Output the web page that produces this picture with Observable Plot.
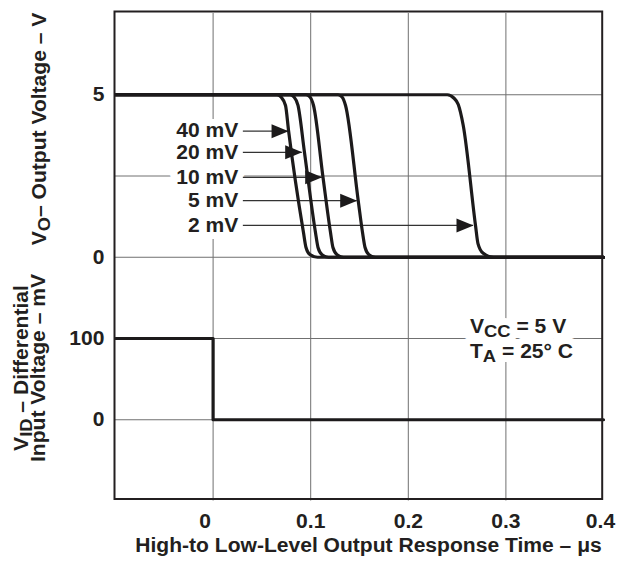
<!DOCTYPE html>
<html>
<head>
<meta charset="utf-8">
<script src="https://cdn.jsdelivr.net/npm/d3@7"></script>
<script src="https://cdn.jsdelivr.net/npm/@observablehq/plot@0.6"></script>
<style>
  html, body { margin: 0; padding: 0; background: #fff; }
  #chart { width: 617px; height: 565px; }
</style>
</head>
<body>
<div id="chart"></div>
<script>
// ---------- data ----------
// Output voltage VO (V) vs time (µs) for each input overdrive
const vo40mV = [[-0.1,5],[0.0655,5],[0.0696,4.93],[0.0742,4.67],[0.0773,3.90],[0.0926,0.76],[0.0952,0.30],[0.0993,0.08],[0.1070,0],[0.4,0]];
const vo20mV = [[-0.1,5],[0.0788,5],[0.0829,4.93],[0.0870,4.67],[0.0936,3.23],[0.1049,0.76],[0.1075,0.30],[0.1116,0.08],[0.1182,0],[0.4,0]];
const vo10mV = [[-0.1,5],[0.0952,5],[0.0993,4.93],[0.1029,4.67],[0.1126,2.46],[0.1203,0.76],[0.1228,0.30],[0.1270,0.08],[0.1336,0],[0.4,0]];
const vo5mV  = [[-0.1,5],[0.1280,5],[0.1321,4.93],[0.1357,4.67],[0.1487,1.74],[0.1531,0.76],[0.1557,0.30],[0.1597,0.08],[0.1664,0],[0.4,0]];
const vo2mV  = [[-0.1,5],[0.2400,5],[0.2466,4.90],[0.2512,4.70],[0.2562,4.07],[0.2689,0.97],[0.2714,0.42],[0.2765,0.13],[0.2873,0],[0.4,0]];
const seriesNames = ["40 mV", "20 mV", "10 mV", "5 mV", "2 mV"];
const seriesPoints = [vo40mV, vo20mV, vo10mV, vo5mV, vo2mV];

// Differential input voltage VID (mV) step
const vidTime = [-0.1, 0, 0.4];
const vidMillivolts = [100, 0, 0];

// Arrow annotations: voltage level and time where each arrow touches its curve
const arrowVolts = [3.88, 3.23, 2.46, 1.74, 0.98];
const arrowTipTime = [0.0773, 0.0913, 0.1118, 0.1476, 0.2668];

// Ticks
const xTickValues = [0, 0.1, 0.2, 0.3, 0.4];
const xTickLabels = ["0", "0.1", "0.2", "0.3", "0.4"];
const voTickValues = [5, 0];          // V
const voTickLabels = ["5", "0"];
const vidTickValues = [100, 0];       // mV
const vidTickLabels = ["100", "0"];
const voGridValues = [0, 2.5, 5];
const vidGridValues = [0, 100];
const xGridValues = [0, 0.1, 0.2, 0.3];

// ---------- layout helpers (two stacked panels on one band scale) ----------
const voPos = v => 3 + v / 2.5;       // VO panel occupies bands 3..5
const vidPos = mv => 1 + mv / 100;    // VID panel occupies bands 1..2

const ink = "#231f20";
const grid = "#707070";
const FONT = "'Liberation Sans', Arial, Helvetica, sans-serif";
const FS = 19.5;
const STRETCH = 1.08;

const voData = seriesPoints.flatMap((pts, i) => pts.map(([t, v]) => ({series: seriesNames[i], t, v})));
const vidData = vidTime.map((t, i) => ({t, mv: vidMillivolts[i]}));
const arrows = seriesNames.map((name, i) => ({name, v: arrowVolts[i], tip: arrowTipTime[i]}));
const arrowTail = 0.031;

const yTicks = [...voTickValues.map(voPos), ...vidTickValues.map(vidPos)];
const yLabels = [...voTickLabels, ...vidTickLabels];
const yLabelOf = new Map(yTicks.map((p, i) => [p, yLabels[i]]));
const xLabelOf = new Map(xTickValues.map((v, i) => [v, xTickLabels[i]]));

const arrowHead = {
  draw(ctx) {
    ctx.moveTo(0, 0);
    ctx.lineTo(-17, -7);
    ctx.lineTo(-17, 7);
    ctx.closePath();
  }
};

const axisCommon = {tickSize: 0, fontSize: FS, label: null, fill: ink};

const plot = Plot.plot({
  width: 617,
  height: 565,
  marginLeft: 115,
  marginRight: 14,
  marginTop: 13,
  marginBottom: 64.5,
  style: {fontFamily: FONT, fontSize: FS + "px", fontWeight: "bold", color: ink, background: "#fff"},
  x: {domain: [-0.1, 0.4], label: null},
  y: {domain: [0, 6], label: null},
  marks: [
    Plot.ruleX(xGridValues, {stroke: grid, strokeWidth: 1}),
    Plot.ruleY([...voGridValues.map(voPos), ...vidGridValues.map(vidPos)], {stroke: grid, strokeWidth: 1}),
    // label halos
    Plot.text(arrows, {x: arrowTail, y: d => voPos(d.v), text: "name", textAnchor: "end", dx: -5,
      fill: "#fff", stroke: "#fff", strokeWidth: 14, strokeLinejoin: "round", fontSize: FS, fontWeight: "bold"}),
    // arrow shafts
    Plot.ruleY(arrows, {y: d => voPos(d.v), x1: arrowTail, x2: "tip", stroke: "#333", strokeWidth: 1.3}),
    // output voltage curves
    Plot.line(voData, {x: "t", y: d => voPos(d.v), z: "series", curve: "monotone-x",
      stroke: "#1c1a1b", strokeWidth: 3.2, strokeLinejoin: "round"}),
    // input step
    Plot.line(vidData, {x: "t", y: d => vidPos(d.mv), curve: "step-after", stroke: "#1c1a1b", strokeWidth: 3.2}),
    // arrow heads
    Plot.dot(arrows, {x: "tip", y: d => voPos(d.v), symbol: arrowHead, r: 5, fill: "#1c1a1b", stroke: "none"}),
    // labels
    Plot.text(arrows, {x: arrowTail, y: d => voPos(d.v), text: "name", textAnchor: "end", dx: -5,
      fill: ink, fontSize: FS, fontWeight: "bold"}),
    Plot.frame({stroke: ink, strokeWidth: 2, insetLeft: -1, insetRight: 1.3, insetTop: -2, insetBottom: 2}),
    Plot.axisY(yTicks, {...axisCommon, tickPadding: 11, tickFormat: d => yLabelOf.get(d)}),
    Plot.axisX([0], {...axisCommon, tickPadding: 13, dx: -8, tickFormat: d => xLabelOf.get(d)}),
    Plot.axisX([0.1, 0.2, 0.3], {...axisCommon, tickPadding: 13, tickFormat: d => xLabelOf.get(d)}),
    Plot.axisX([0.4], {...axisCommon, tickPadding: 13, dx: -3, tickFormat: d => xLabelOf.get(d)})
  ]
});

document.getElementById("chart").appendChild(plot);

// ---------- titles and the condition box (real text with subscripts) ----------
const svg = d3.select(plot);

function richText(parent, parts, attrs, halo) {
  const t = parent.append("text")
    .attr("font-family", FONT)
    .attr("font-weight", "bold")
    .attr("font-size", FS)
    .attr("text-anchor", "start");
  for (const [k, v] of Object.entries(attrs)) t.attr(k, v);
  if (halo) {
    t.attr("fill", "#fff").attr("stroke", "#fff").attr("stroke-width", 14).attr("stroke-linejoin", "round");
  } else {
    t.attr("fill", ink);
  }
  let wasSub = false;
  for (const [s, sub] of parts) {
    const ts = t.append("tspan").text(s);
    if (sub) { ts.attr("font-size", FS - 2.5).attr("dy", 4); wasSub = true; }
    else if (wasSub) { ts.attr("dy", -4); wasSub = false; }
  }
  return t;
}

// Y title, upper panel
richText(svg, [["V", false], ["O", true], ["– Output Voltage – V", false]],
  {transform: "translate(46,129) rotate(-90)", "text-anchor": "middle"});
// Y title, lower panel (two lines)
richText(svg, [["V", false], ["ID", true], [" – Differential", false]],
  {transform: "translate(28,368) rotate(-90)", "text-anchor": "middle"});
richText(svg, [["Input Voltage – mV", false]],
  {transform: "translate(45,368) rotate(-90)", "text-anchor": "middle"});
// X title
richText(svg, [["High-to Low-Level Output Response Time – μs", false]],
  {x: 368.5, y: 552, "text-anchor": "middle"});
// Conditions: white halo layer first, then the lettering on top
const condLines = [
  [[["V", false], ["CC", true], [" = 5 V", false]], 333],
  [[["T", false], ["A", true], [" = 25° C", false]], 358]
];
const condHalo = svg.append("g");
const condText = svg.append("g");
for (const [parts, y] of condLines) richText(condHalo, parts, {x: 470, y}, true);
for (const [parts, y] of condLines) richText(condText, parts, {x: 470, y}, false);

// The reference lettering is a horizontally widened Helvetica: widen every label's glyphs.
svg.selectAll("text").each(function () {
  const w = this.getComputedTextLength();
  if (w > 0) {
    this.setAttribute("textLength", (w * STRETCH).toFixed(1));
    this.setAttribute("lengthAdjust", "spacingAndGlyphs");
  }
});
</script>
</body>
</html>
